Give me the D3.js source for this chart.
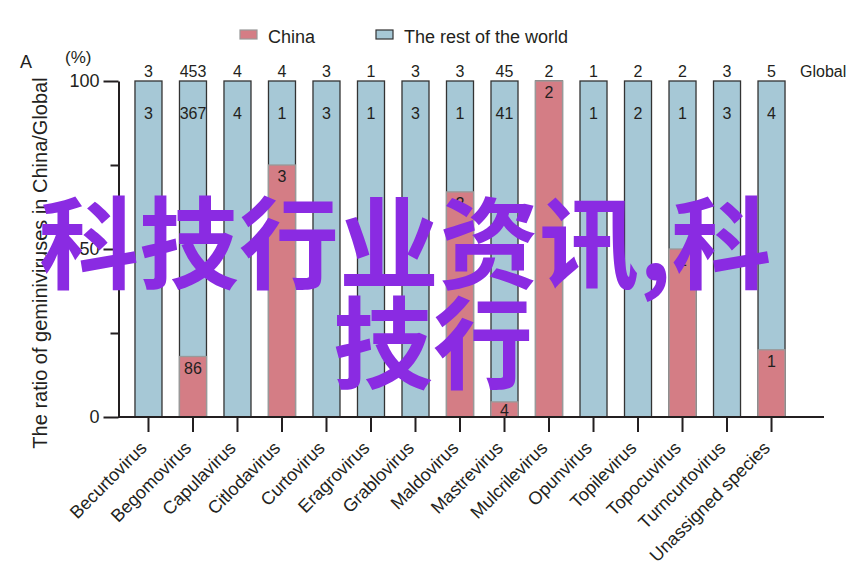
<!DOCTYPE html>
<html><head><meta charset="utf-8">
<script src="https://cdn.jsdelivr.net/npm/d3@7/dist/d3.min.js"></script>
<style>
body{margin:0;background:#fff}
svg{display:block}
text{font-family:"Liberation Sans",Arial,sans-serif;fill:#231f20}
</style>
</head><body><svg id="c" width="866" height="565"></svg>
<script>
const categories = ["Becurtovirus","Begomovirus","Capulavirus","Citlodavirus","Curtovirus","Eragrovirus","Grablovirus","Maldovirus","Mastrevirus","Mulcrilevirus","Opunvirus","Topilevirus","Topocuvirus","Turncurtovirus","Unassigned species"];
const globalCounts = [3,453,4,4,3,1,3,3,45,2,1,2,2,3,5];
const restCounts   = [3,367,4,1,3,1,3,1,41,null,1,2,1,3,4];
const chinaCounts  = [null,86,null,3,null,null,null,2,4,2,null,null,1,null,1];
const chinaPercent = [0,18,0,75,0,0,0,67,4.5,100,0,0,50,0,20];
const yTickValues = [0,25,50,75,100];
const yTickLabels = ["0","","50","","100"];
const seriesNames = ["China","The rest of the world"];
const colors = {china:"#d47d85", rest:"#a6c8d6"};
const watermarkLines = ["科技行业资讯,科","技行"];

const svg = d3.select("#c");
const x = d3.scaleBand().domain(categories).range([126.25,793.75]).paddingInner(0.393).paddingOuter(0.196);
const y = d3.scaleLinear().domain([0,100]).range([417,81]);

const rows = categories.map((c,i)=>({c, g:globalCounts[i], r:restCounts[i], cn:chinaCounts[i], p:chinaPercent[i]}));

// rest of world (full bar)
svg.append("g").selectAll("rect").data(rows).join("rect")
  .attr("x", d=>x(d.c)).attr("width", x.bandwidth())
  .attr("y", y(100)).attr("height", y(0)-y(100))
  .attr("fill", colors.rest).attr("stroke","#333").attr("stroke-width",1.3);
// China segment
svg.append("g").selectAll("rect").data(rows.filter(d=>d.p>0)).join("rect")
  .attr("x", d=>x(d.c)).attr("width", x.bandwidth())
  .attr("y", d=>y(d.p)).attr("height", d=>y(0)-y(d.p))
  .attr("fill", colors.china).attr("stroke","#999").attr("stroke-width",1.3);

// labels
const cx = d=>x(d.c)+x.bandwidth()/2;
svg.append("g").selectAll("text").data(rows).join("text")
  .attr("x", cx).attr("y", y(100)-4).attr("text-anchor","middle")
  .style("font-size","16px").text(d=>d.g);
svg.append("g").selectAll("text").data(rows.filter(d=>d.r!=null)).join("text")
  .attr("x", cx).attr("y", y(100)+38).attr("text-anchor","middle")
  .style("font-size","16px").text(d=>d.r);
svg.append("g").selectAll("text").data(rows.filter(d=>d.cn!=null)).join("text")
  .attr("x", cx).attr("y", d=>Math.min(y(d.p)+17, y(0)-1)).attr("text-anchor","middle")
  .style("font-size","16px").text(d=>d.cn);
svg.append("text").attr("x", 800).attr("y", y(100)-4).style("font-size","16px").text("Global");

// Y axis
const yAxis = d3.axisLeft(y).tickValues(yTickValues)
  .tickFormat((d,i)=>yTickLabels[i]).tickSize(15).tickSizeOuter(0).tickPadding(4);
const gy = svg.append("g").attr("transform","translate(118.5,0)").call(yAxis);
gy.select(".domain").attr("stroke","#231f20").attr("stroke-width",2);
gy.selectAll(".tick line").attr("stroke","#231f20").attr("stroke-width",2)
  .attr("x2",(d,i)=>yTickLabels[i]===""?-8:-15);
gy.selectAll(".tick text").style("font-size","18px").style("font-family",'"Liberation Sans",Arial,sans-serif').attr("fill","#231f20").attr("x",-19);

// X axis
const xAxis = d3.axisBottom(x).tickSize(15).tickSizeOuter(0);
const gx = svg.append("g").attr("transform","translate(0,417)").call(xAxis);
gx.select(".domain").remove();
gx.append("line").attr("x1",118).attr("x2",824).attr("stroke","#231f20").attr("stroke-width",2);
gx.selectAll(".tick line").attr("stroke","#231f20").attr("stroke-width",2);
gx.selectAll(".tick text").style("font-size","18px").style("font-family",'"Liberation Sans",Arial,sans-serif')
  .attr("fill","#231f20").attr("text-anchor","end")
  .attr("transform","rotate(-45)").attr("x",-23).attr("y",16).attr("dy","0.35em");

// Axis title and annotations
svg.append("text").attr("transform","translate(47,263) rotate(-90)").attr("text-anchor","middle")
  .style("font-size","20px").text("The ratio of geminiviruses in China/Global");
svg.append("text").attr("x",20).attr("y",68).style("font-size","18px").text("A");
svg.append("text").attr("x",65).attr("y",63).style("font-size","17px").text("(%)");

// Legend
const leg = svg.append("g");
const legItems = [{n:seriesNames[0],f:colors.china,s:"#999",x:240},{n:seriesNames[1],f:colors.rest,s:"#333",x:376}];
leg.selectAll("rect").data(legItems).join("rect")
  .attr("x",d=>d.x).attr("y",30).attr("width",17).attr("height",9)
  .attr("fill",d=>d.f).attr("stroke",d=>d.s).attr("stroke-width",1.2);
leg.selectAll("text").data(legItems).join("text")
  .attr("x",d=>d.x+28).attr("y",43).style("font-size","18px").text(d=>d.n);

// Watermark
const wm = svg.append("g");
wm.selectAll("text").data(watermarkLines).join("text")
  .attr("x",(d,i)=>i===0?39:333).attr("y",(d,i)=>i===0?281:381)
  .style("font-family",'"Noto Sans CJK SC",sans-serif').style("font-weight","bold")
  .style("font-size","100px").attr("fill","#8a2be2").style("fill","#8a2be2").text(d=>d);
</script>
</body></html>
